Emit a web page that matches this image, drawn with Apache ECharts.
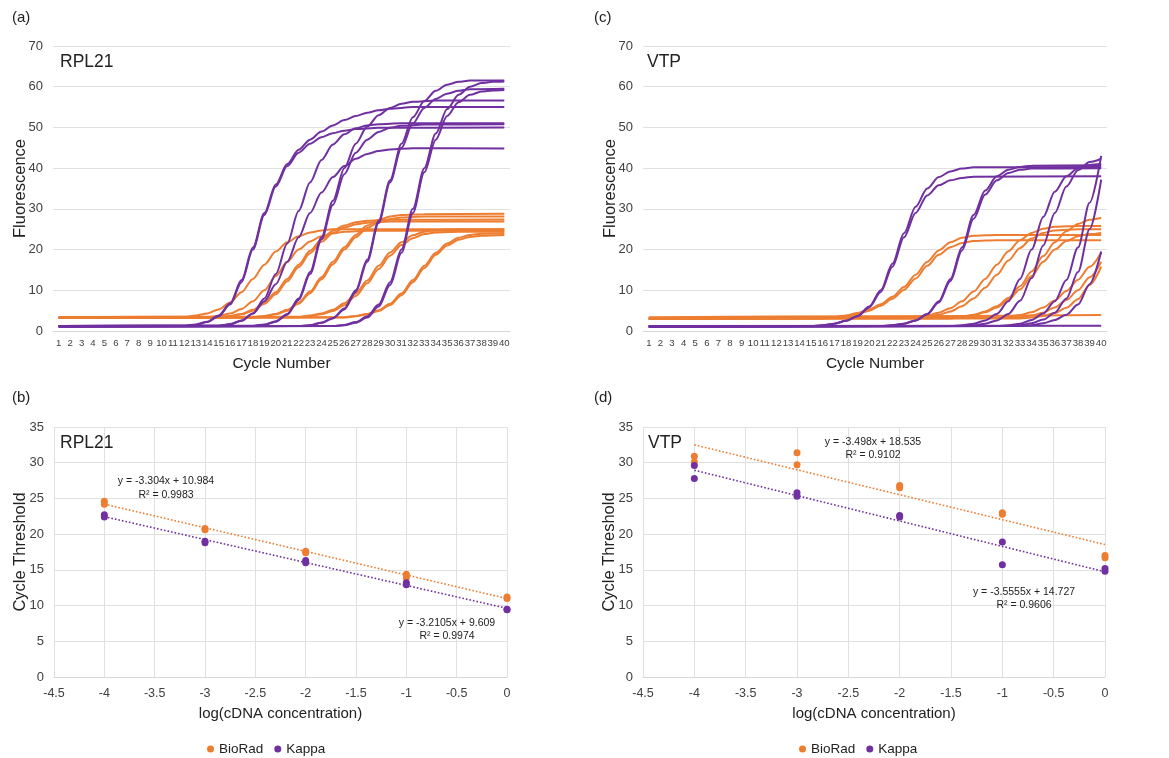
<!DOCTYPE html>
<html><head><meta charset="utf-8">
<script src="https://cdn.jsdelivr.net/npm/echarts@6.0.0/dist/echarts.min.js"></script>
<style>html,body{margin:0;padding:0;background:#fff}#c{width:1169px;height:758px}</style>
</head><body><div id="c"></div>
<script>
// ---------- tick labels ----------
const cycles = ['1','2','3','4','5','6','7','8','9','10','11','12','13','14','15','16','17','18','19','20',
  '21','22','23','24','25','26','27','28','29','30','31','32','33','34','35','36','37','38','39','40'];

// ---------- (a) RPL21 amplification curves: [cycle, fluorescence] ----------
const rplKappa1 = [[1,1.2],[12,1.3],[13,1.6],[14,2.3],[15,3.8],[16,6.8],[17,12.5],[18,20.5],[19,29],[20,36],[21,41],[22,44.5],[23,47],[24,49],[25,50.5],[26,51.8],[27,52.8],[28,53.6],[29,54.2],[30,54.6],[32,55],[40,55]];
const rplKappa2 = [[1,1.1],[12,1.2],[13,1.5],[14,2.2],[15,3.6],[16,6.5],[17,12],[18,20],[19,28.5],[20,35.5],[21,40.5],[22,43.8],[23,46],[24,47.6],[25,48.6],[26,49.2],[27,49.6],[29,49.9],[40,50]];
const rplKappa3 = [[1,1.2],[15,1.3],[16,1.6],[17,2.5],[18,4.3],[19,8],[20,14],[21,21.5],[22,29.5],[23,36.5],[24,42],[25,45.8],[26,48.3],[27,49.8],[28,50.5],[29,50.8],[31,51],[40,51]];
const rplKappa4 = [[1,1.2],[15,1.3],[16,1.7],[17,2.6],[18,4.3],[19,7.3],[20,11.5],[21,17],[22,23],[23,29],[24,34],[25,37.8],[26,40.5],[27,42.3],[28,43.5],[29,44.2],[30,44.6],[32,44.9],[40,44.8]];
const rplKappa5 = [[1,1.2],[18,1.3],[19,1.6],[20,2.4],[21,4.2],[22,8],[23,14.5],[24,23],[25,32],[26,40],[27,46],[28,50.2],[29,53],[30,54.8],[31,55.8],[32,56.3],[34,56.6],[40,56.6]];
const rplKappa6 = [[1,1.1],[18,1.2],[19,1.5],[20,2.3],[21,4],[22,7.6],[23,14],[24,22.5],[25,31],[26,38.5],[27,43.8],[28,47],[29,48.9],[30,49.9],[31,50.4],[33,50.7],[40,50.8]];
const rplKappa7 = [[1,1.1],[22,1.2],[23,1.4],[24,2],[25,3.2],[26,5.5],[27,10],[28,17.5],[29,27],[30,37],[31,46],[32,52.5],[33,56.5],[34,59],[35,60.5],[36,61.2],[37,61.5],[40,61.5]];
const rplKappa8 = [[1,1.1],[22,1.2],[23,1.4],[24,2],[25,3.1],[26,5.3],[27,9.6],[28,17],[29,26.5],[30,36.5],[31,45],[32,51],[33,54.8],[34,57],[35,58.3],[36,59],[37,59.4],[40,59.5]];
const rplKappa9 = [[1,1.1],[25,1.2],[26,1.5],[27,2.2],[28,3.6],[29,6.5],[30,12],[31,20],[32,30],[33,40],[34,48.5],[35,54.5],[36,58],[37,60],[38,60.9],[39,61.2],[40,61.3]];
const rplKappa10 = [[1,1.1],[25,1.2],[26,1.4],[27,2],[28,3.3],[29,6],[30,11.3],[31,19.2],[32,29],[33,39],[34,47],[35,52.8],[36,56.2],[37,58],[38,58.8],[39,59.1],[40,59.2]];

const rplBio1 = [[1,3.4],[12,3.5],[13,3.8],[14,4.3],[15,5.3],[16,7],[17,9.5],[18,12.8],[19,16.3],[20,19.5],[21,21.8],[22,23.3],[23,24.2],[24,24.7],[25,25],[40,25]];
const rplBio2 = [[1,3.3],[14,3.4],[15,3.7],[16,4.3],[17,5.4],[18,7.3],[19,10],[20,13.5],[21,17],[22,20],[23,22],[24,23.3],[25,24],[26,24.4],[28,24.6],[40,24.6]];
const rplBio3 = [[1,3.3],[15,3.4],[16,3.7],[17,4.2],[18,5.2],[19,7],[20,9.5],[21,12.8],[22,16.3],[23,19.7],[24,22.5],[25,24.6],[26,25.9],[27,26.7],[28,27.1],[30,27.3],[40,27.4]];
const rplBio4 = [[1,3.2],[15,3.3],[16,3.6],[17,4.1],[18,5],[19,6.7],[20,9],[21,12.2],[22,15.7],[23,19.1],[24,21.9],[25,24],[26,25.4],[27,26.2],[28,26.6],[30,26.9],[40,26.9]];
const rplBio5 = [[1,3.3],[18,3.4],[19,3.7],[20,4.2],[21,5.2],[22,7],[23,9.7],[24,13.2],[25,17],[26,20.6],[27,23.6],[28,25.9],[29,27.3],[30,28.1],[31,28.5],[33,28.7],[40,28.8]];
const rplBio6 = [[1,3.2],[18,3.3],[19,3.6],[20,4.1],[21,5],[22,6.7],[23,9.3],[24,12.7],[25,16.4],[26,20],[27,23],[28,25.3],[29,26.7],[30,27.5],[31,27.9],[33,28.1],[40,28.1]];
const rplBio7 = [[1,3.4],[22,3.5],[23,3.8],[24,4.3],[25,5.2],[26,6.8],[27,9.2],[28,12.4],[29,16],[30,19.3],[31,21.8],[32,23.5],[33,24.4],[34,24.8],[36,25],[40,25]];
const rplBio8 = [[1,3.3],[22,3.4],[23,3.7],[24,4.1],[25,4.9],[26,6.3],[27,8.6],[28,11.7],[29,15.2],[30,18.5],[31,21.1],[32,22.8],[33,23.8],[34,24.2],[36,24.4],[40,24.4]];
const rplBio9 = [[1,3.3],[26,3.4],[27,3.7],[28,4.2],[29,5.1],[30,6.7],[31,9.2],[32,12.5],[33,16],[34,19.2],[35,21.5],[36,22.9],[37,23.6],[38,23.9],[40,24]];
const rplBio10 = [[1,3.2],[26,3.3],[27,3.6],[28,4.1],[29,4.9],[30,6.4],[31,8.8],[32,12],[33,15.5],[34,18.7],[35,21],[36,22.4],[37,23.1],[38,23.4],[40,23.6]];

// ---------- (c) VTP amplification curves ----------
const vtpKappa1 = [[1,1.1],[15,1.2],[16,1.4],[17,1.8],[18,2.5],[19,3.7],[20,6],[21,10],[22,16.5],[23,24],[24,30.5],[25,35],[26,37.8],[27,39.2],[28,39.9],[29,40.2],[40,40.3]];
const vtpKappa2 = [[1,1.1],[15,1.2],[16,1.4],[17,1.8],[18,2.5],[19,3.6],[20,5.8],[21,9.6],[22,15.8],[23,23],[24,29],[25,33.3],[26,35.8],[27,37],[28,37.6],[29,37.9],[40,38]];
const vtpKappa3 = [[1,1.1],[21,1.2],[22,1.4],[23,1.8],[24,2.6],[25,4.2],[26,7.3],[27,12.8],[28,20.5],[29,28.5],[30,34.5],[31,38],[32,39.6],[33,40.3],[34,40.6],[40,40.7]];
const vtpKappa4 = [[1,1.1],[21,1.2],[22,1.4],[23,1.8],[24,2.6],[25,4.1],[26,7],[27,12.3],[28,19.8],[29,27.6],[30,33.5],[31,37],[32,38.8],[33,39.6],[34,39.9],[40,40]];
const vtpKappa5 = [[1,1.1],[27,1.2],[28,1.4],[29,1.8],[30,2.6],[31,4.2],[32,7.3],[33,12.8],[34,20],[35,28],[36,34.2],[37,38],[38,40],[39,40.8],[40,41]];
const vtpKappa6 = [[1,1.1],[28,1.2],[29,1.4],[30,1.8],[31,2.6],[32,4.2],[33,7.4],[34,13],[35,21],[36,29],[37,35.5],[38,39.5],[39,41.5],[40,42.3]];
const vtpKappa7 = [[1,1.1],[31,1.2],[32,1.4],[33,1.8],[34,2.7],[35,4.3],[36,7.3],[37,12.5],[38,20.5],[39,31.5],[40,43]];
const vtpKappa8 = [[1,1.1],[32,1.2],[33,1.4],[34,1.9],[35,2.8],[36,4.5],[37,8],[38,14.5],[39,25],[40,37.2]];
const vtpKappa9 = [[1,1.1],[33,1.2],[34,1.4],[35,1.9],[36,2.7],[37,4],[38,6.5],[39,11.5],[40,19.5]];
const vtpKappa10 = [[1,1.2],[40,1.3]];

const vtpBio1 = [[1,3.1],[16,3.2],[17,3.4],[18,3.8],[19,4.4],[20,5.3],[21,6.6],[22,8.4],[23,10.8],[24,13.8],[25,17],[26,19.8],[27,21.8],[28,22.9],[29,23.4],[31,23.6],[40,23.6]];
const vtpBio2 = [[1,3],[16,3.1],[17,3.3],[18,3.7],[19,4.2],[20,5],[21,6.2],[22,7.9],[23,10.1],[24,12.9],[25,16],[26,18.7],[27,20.6],[28,21.6],[29,22.1],[31,22.3],[40,22.3]];
const vtpBio3 = [[1,3.1],[23,3.2],[24,3.4],[25,3.8],[26,4.5],[27,5.6],[28,7.3],[29,9.7],[30,12.8],[31,16.3],[32,19.6],[33,22.3],[34,24.1],[35,25.1],[36,25.6],[38,25.8],[40,25.8]];
const vtpBio4 = [[1,3],[24,3.2],[25,3.5],[26,4],[27,4.8],[28,6.1],[29,8],[30,10.6],[31,13.8],[32,17.3],[33,20.4],[34,22.7],[35,24.1],[36,24.7],[38,25],[40,25]];
const vtpBio5 = [[1,3.1],[27,3.2],[28,3.5],[29,4],[30,4.8],[31,6.1],[32,8.1],[33,11],[34,14.6],[35,18.4],[36,21.8],[37,24.5],[38,26.3],[39,27.3],[40,27.8]];
const vtpBio6 = [[1,3],[27,3.1],[28,3.4],[29,3.9],[30,4.6],[31,5.8],[32,7.6],[33,10.2],[34,13.5],[35,17],[36,20],[37,22.1],[38,23.3],[39,23.8],[40,24.1]];
const vtpBio7 = [[1,3.2],[31,3.3],[32,3.5],[33,3.9],[34,4.6],[35,5.8],[36,7.5],[37,9.8],[38,12.6],[39,15.8],[40,19.3]];
const vtpBio8 = [[1,3.1],[32,3.2],[33,3.4],[34,3.8],[35,4.5],[36,5.8],[37,7.6],[38,10],[39,13.2],[40,17]];
const vtpBio9 = [[1,3],[33,3.1],[34,3.3],[35,3.7],[36,4.4],[37,5.7],[38,7.8],[39,11.3],[40,15.8]];
const vtpBio10 = [[1,3.4],[20,3.6],[40,3.9]];

// ---------- (b) RPL21 standard curve: [log conc, Ct] ----------
const rplBioRadCt = [[-4,24.6],[-4,24.2],[-3,20.8],[-3,20.6],[-2,17.6],[-2,17.4],[-1,14.4],[-1,13.9],[0,11.2],[0,11.0]];
const rplKappaCt  = [[-4,22.7],[-4,22.4],[-3,19.0],[-3,18.8],[-2,16.3],[-2,16.0],[-1,13.2],[-1,12.9],[0,9.5],[0,9.4]];
const rplBioRadTrend = [[-4,24.2],[0,10.98]];
const rplKappaTrend  = [[-4,22.45],[0,9.61]];

// ---------- (d) VTP standard curve ----------
const vtpBioRadCt = [[-4,30.9],[-4,30.1],[-3,31.4],[-3,29.7],[-2,26.8],[-2,26.5],[-1,23.0],[-1,22.8],[0,17.0],[0,16.7]];
const vtpKappaCt  = [[-4,29.6],[-4,27.8],[-3,25.8],[-3,25.3],[-2,22.6],[-2,22.4],[-1,18.9],[-1,15.7],[0,15.2],[0,14.8]];
const vtpBioRadTrend = [[-4,32.5],[0,18.54]];
const vtpKappaTrend  = [[-4,28.95],[0,14.73]];

const rplKappa = [rplKappa1,rplKappa2,rplKappa3,rplKappa4,rplKappa5,rplKappa6,rplKappa7,rplKappa8,rplKappa9,rplKappa10];
const rplBio = [rplBio1,rplBio2,rplBio3,rplBio4,rplBio5,rplBio6,rplBio7,rplBio8,rplBio9,rplBio10];
const vtpKappa = [vtpKappa1,vtpKappa2,vtpKappa3,vtpKappa4,vtpKappa5,vtpKappa6,vtpKappa7,vtpKappa8,vtpKappa9,vtpKappa10];
const vtpBio = [vtpBio1,vtpBio2,vtpBio3,vtpBio4,vtpBio5,vtpBio6,vtpBio7,vtpBio8,vtpBio9,vtpBio10];

// ---------- styling ----------
const ORANGE = '#ED7D31', PURPLE = '#7030A0';
const FONT = '"Liberation Sans", Arial, Helvetica, sans-serif';
const GRIDC = '#e0e0e0', LABC = '#404040';

function curve(d, color, idx, name){
  return {type:'line', name, xAxisIndex:idx, yAxisIndex:idx, data:d.map(p=>[String(p[0]),p[1]]),
    smooth:0.3, smoothMonotone:'x', symbol:'none', silent:true,
    lineStyle:{color, width:2}, itemStyle:{color}};
}
function dots(d, color, idx, name){
  return {type:'scatter', name, xAxisIndex:idx, yAxisIndex:idx, data:d, symbolSize:7, z:5,
    itemStyle:{color, opacity:1}};
}
function trend(d, color, idx){
  return {type:'line', name:'trend', xAxisIndex:idx, yAxisIndex:idx, data:d, symbol:'none', z:3, silent:true,
    lineStyle:{color, width:1.6, type:[1.6,2]}};
}
function catX(idx){
  return {type:'category', gridIndex:idx, data:cycles, boundaryGap:true,
    axisTick:{show:false}, axisLine:{lineStyle:{color:'#d6d6d6'}},
    axisLabel:{interval:0, fontSize:9.6, color:LABC, margin:7, fontFamily:FONT},
    name:'Cycle Number', nameLocation:'middle', nameGap:25, nameMoveOverlap:false,
    nameTextStyle:{fontSize:15.5, color:'#222', fontFamily:FONT}};
}
function fluorY(idx){
  return {type:'value', gridIndex:idx, min:0, max:70, interval:10,
    axisLine:{show:false}, axisTick:{show:false},
    splitLine:{lineStyle:{color:GRIDC}},
    axisLabel:{fontSize:13, color:LABC, margin:10, fontFamily:FONT},
    name:'Fluorescence', nameLocation:'middle', nameGap:24.5, nameMoveOverlap:false,
    nameTextStyle:{fontSize:16.5, color:'#222', fontFamily:FONT}};
}
function logX(idx){
  return {type:'value', gridIndex:idx, min:-4.5, max:0, interval:0.5,
    axisTick:{show:false}, axisLine:{lineStyle:{color:'#d6d6d6'}},
    splitLine:{show:true, lineStyle:{color:GRIDC}},
    axisLabel:{fontSize:12.5, color:LABC, margin:10, fontFamily:FONT},
    name:'log(cDNA concentration)', nameLocation:'middle', nameGap:29.5, nameMoveOverlap:false,
    nameTextStyle:{fontSize:15, color:'#222', fontFamily:FONT}};
}
function ctY(idx){
  return {type:'value', gridIndex:idx, min:0, max:35, interval:5,
    axisLine:{show:false}, axisTick:{show:false},
    splitLine:{lineStyle:{color:GRIDC}},
    axisLabel:{fontSize:13, color:LABC, margin:10, fontFamily:FONT},
    name:'Cycle Threshold', nameLocation:'middle', nameGap:25.5, nameMoveOverlap:false,
    nameTextStyle:{fontSize:16.5, color:'#222', fontFamily:FONT}};
}
function txt(text, x, y, size, align){
  return {type:'text', x, y, silent:true, z:10,
    style:{text, font:size+'px '+FONT, fill:'#222', textAlign:align||'left', textVerticalAlign:'middle',
      align:align||'left', verticalAlign:'middle'}};
}

const series = [];
rplBio.forEach(d=>series.push(curve(d, ORANGE, 0, 'BioRad amp')));
rplKappa.forEach(d=>series.push(curve(d, PURPLE, 0, 'Kappa amp')));
vtpBio.forEach(d=>series.push(curve(d, ORANGE, 1, 'BioRad amp')));
vtpKappa.forEach(d=>series.push(curve(d, PURPLE, 1, 'Kappa amp')));
series.push(trend(rplBioRadTrend, ORANGE, 2), trend(rplKappaTrend, PURPLE, 2));
series.push(dots(rplBioRadCt, ORANGE, 2, 'BioRad'), dots(rplKappaCt, PURPLE, 2, 'Kappa'));
series.push(trend(vtpBioRadTrend, ORANGE, 3), trend(vtpKappaTrend, PURPLE, 3));
series.push(dots(vtpBioRadCt, ORANGE, 3, 'BioRad'), dots(vtpKappaCt, PURPLE, 3, 'Kappa'));

const legendBase = {data:['BioRad','Kappa'], icon:'circle', itemWidth:7, itemHeight:7, itemGap:11,
  top:737, textStyle:{fontSize:13.5, color:'#222', fontFamily:FONT}, selectedMode:false};

const option = {
  animation:false,
  backgroundColor:'#fff',
  textStyle:{fontFamily:FONT},
  grid:[
    {left:53, top:46, width:457, height:285},
    {left:643, top:46, width:464, height:285},
    {left:54, top:427, width:453, height:250},
    {left:643, top:427, width:462, height:250}
  ],
  xAxis:[catX(0), catX(1), logX(2), logX(3)],
  yAxis:[fluorY(0), fluorY(1), ctY(2), ctY(3)],
  legend:[Object.assign({left:202}, legendBase), Object.assign({left:794}, legendBase)],
  series,
  graphic:[
    txt('(a)', 12, 18, 15), txt('(c)', 594, 18, 15),
    txt('(b)', 12, 398, 15), txt('(d)', 594, 398, 15),
    txt('RPL21', 60, 62, 17.5), txt('VTP', 647, 62, 17.5),
    txt('RPL21', 60, 443, 17.5), txt('VTP', 648, 443, 17.5),
    txt('y = -3.304x + 10.984', 166, 481, 10.5, 'center'),
    txt('R² = 0.9983', 166, 495, 10.5, 'center'),
    txt('y = -3.2105x + 9.609', 447, 623, 10.5, 'center'),
    txt('R² = 0.9974', 447, 636, 10.5, 'center'),
    txt('y = -3.498x + 18.535', 873, 442, 10.5, 'center'),
    txt('R² = 0.9102', 873, 455, 10.5, 'center'),
    txt('y = -3.5555x + 14.727', 1024, 592, 10.5, 'center'),
    txt('R² = 0.9606', 1024, 605, 10.5, 'center')
  ]
};
echarts.init(document.getElementById('c'), null, {renderer:'canvas'}).setOption(option);
</script></body></html>
